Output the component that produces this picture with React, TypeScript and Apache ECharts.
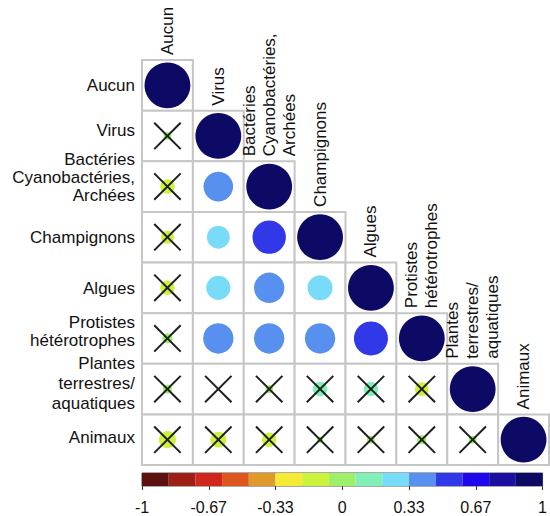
import React, { useEffect, useRef } from "react";
import * as echarts from "echarts";

// Groups compared in the correlation matrix (rows and columns share the order)
const groups = [
  "Aucun",
  "Virus",
  "Bactéries\nCyanobactéries,\nArchées",
  "Champignons",
  "Algues",
  "Protistes\nhétérotrophes",
  "Plantes\nterrestres/\naquatiques",
  "Animaux",
];

// Lower triangle of the correlation matrix, row by row (diagonal included)
const rowAucun = [1];
const rowVirus = [0.03, 1];
const rowBacteries = [-0.1, 0.42, 1];
const rowChampignons = [-0.08, 0.25, 0.53, 1];
const rowAlgues = [-0.1, 0.28, 0.44, 0.3, 1];
const rowProtistes = [0.05, 0.44, 0.44, 0.44, 0.55, 1];
const rowPlantes = [0.04, 0.0, 0.03, 0.1, 0.1, -0.09, 1];
const rowAnimaux = [-0.14, -0.12, -0.1, 0.02, 0.03, 0.04, 0.03, 1];
const corrRows = [rowAucun, rowVirus, rowBacteries, rowChampignons, rowAlgues, rowProtistes, rowPlantes, rowAnimaux];

// Non-significant correlations (crossed out), same layout as above: 1 = crossed
const crossAucun = [0];
const crossVirus = [1, 0];
const crossBacteries = [1, 0, 0];
const crossChampignons = [1, 0, 0, 0];
const crossAlgues = [1, 0, 0, 0, 0];
const crossProtistes = [1, 0, 0, 0, 0, 0];
const crossPlantes = [1, 1, 1, 1, 1, 1, 0];
const crossAnimaux = [1, 1, 1, 1, 1, 1, 1, 0];
const crossRows = [crossAucun, crossVirus, crossBacteries, crossChampignons, crossAlgues, crossProtistes, crossPlantes, crossAnimaux];

// Colour scale from -1 to 1 (15 equal classes)
const palette = [
  "#5c1010", "#9e1f16", "#d0271d", "#dc561e", "#e09a2a",
  "#f5ea34", "#ccf23c", "#9ef06a", "#80f0b8", "#78dcf8",
  "#5890f0", "#3038e8", "#2008ec", "#1c0ea0", "#0c0a64",
];
const scaleMin = -1;
const scaleMax = 1;

const FONT = '"Liberation Sans", Arial, Helvetica, sans-serif';

function colorOf(v: number): string {
  const n = palette.length;
  let k = Math.floor(((v - scaleMin) / (scaleMax - scaleMin)) * n);
  if (k < 0) k = 0;
  if (k > n - 1) k = n - 1;
  return palette[k];
}

// per-row nudges for the multi-line row labels
const rowLabelLift = [0, 5, 9, 0, -1, 7, 6, 2];
const rowLabelLineHeight = [18, 18, 18, 18, 18, 18, 20, 18];

function buildOption() {
  const cells: any[] = [];
  corrRows.forEach((row, i) => {
    row.forEach((v, j) => {
      cells.push([j, i, v, crossRows[i][j]]);
    });
  });
  const diag = groups.map((_, i) => [i, i, i]);
  const rowHeads = groups.map((_, i) => [0, i, i]);

  const bins = palette.map((c, k) => {
    const w = (scaleMax - scaleMin) / palette.length;
    return [scaleMin + k * w, scaleMin + (k + 1) * w, k];
  });

  return {
    animation: false,
    backgroundColor: "#ffffff",
    grid: [
      { left: 142, top: 60, width: 407, height: 405 },
      {
        left: 142, top: 473, width: 407, height: 13,
        show: true, borderColor: "#555", borderWidth: 1, backgroundColor: "transparent",
      },
    ],
    xAxis: [
      {
        gridIndex: 0, type: "category", data: groups,
        axisLine: { show: false }, axisTick: { show: false }, axisLabel: { show: false },
        splitLine: { show: false },
      },
      {
        gridIndex: 1, type: "value", min: scaleMin, max: scaleMax, interval: 1 / 3,
        axisLine: { show: false },
        axisTick: { show: true, length: 4, lineStyle: { color: "#333", width: 1 } },
        splitLine: { show: false },
        axisLabel: {
          show: true, margin: 13, fontSize: 16, fontFamily: FONT, color: "#111",
          showMinLabel: true, showMaxLabel: true,
          formatter: (v: number) => String(Math.round(v * 100) / 100),
        },
      },
    ],
    yAxis: [
      {
        gridIndex: 0, type: "category", data: groups, inverse: true,
        axisLine: { show: false }, axisTick: { show: false }, splitLine: { show: false },
        axisLabel: { show: false },
      },
      { gridIndex: 1, type: "value", min: 0, max: 1, show: false },
    ],
    series: [
      {
        type: "custom",
        xAxisIndex: 0, yAxisIndex: 0,
        data: cells,
        renderItem: (params: any, api: any) => {
          const c = api.coord([api.value(0), api.value(1)]);
          const s = api.size([1, 1]);
          const w = s[0], h = s[1];
          const v = api.value(2);
          const crossed = api.value(3);
          const r = 0.4525 * Math.min(w, h) * Math.sqrt(Math.abs(v));
          const children: any[] = [
            {
              type: "rect",
              shape: { x: c[0] - w / 2, y: c[1] - h / 2, width: w, height: h },
              style: { fill: "#ffffff", stroke: "#c6c6c6", lineWidth: 2 },
            },
          ];
          if (r > 0.3) {
            children.push({
              type: "circle",
              shape: { cx: c[0], cy: c[1], r },
              style: { fill: colorOf(v) },
            });
          }
          if (crossed) {
            const d = 0.26 * w;
            children.push(
              {
                type: "line",
                shape: { x1: c[0] - d, y1: c[1] - d, x2: c[0] + d, y2: c[1] + d },
                style: { stroke: "#1e1e1e", lineWidth: 2 },
              },
              {
                type: "line",
                shape: { x1: c[0] - d, y1: c[1] + d, x2: c[0] + d, y2: c[1] - d },
                style: { stroke: "#1e1e1e", lineWidth: 2 },
              }
            );
          }
          return { type: "group", children };
        },
      },
      {
        // column names written vertically above each diagonal cell
        type: "custom",
        xAxisIndex: 0, yAxisIndex: 0,
        data: diag,
        renderItem: (params: any, api: any) => {
          const c = api.coord([api.value(0), api.value(1)]);
          const h = api.size([1, 1])[1];
          return {
            type: "text",
            x: c[0],
            y: c[1] - h / 2 - 5,
            rotation: Math.PI / 2,
            style: {
              text: groups[api.value(2)],
              fill: "#111",
              fontSize: 17,
              fontFamily: FONT,
              lineHeight: 20,
              align: "left",
              verticalAlign: "middle",
            },
          };
        },
      },
      {
        // row names, right-aligned left of the first column
        type: "custom",
        xAxisIndex: 0, yAxisIndex: 0,
        data: rowHeads,
        renderItem: (params: any, api: any) => {
          const c = api.coord([api.value(0), api.value(1)]);
          const w = api.size([1, 1])[0];
          const i = api.value(2);
          return {
            type: "text",
            x: c[0] - w / 2 - 7,
            y: c[1] - rowLabelLift[i],
            style: {
              text: groups[i],
              fill: "#111",
              fontSize: 17,
              fontFamily: FONT,
              lineHeight: rowLabelLineHeight[i],
              align: "right",
              verticalAlign: "middle",
            },
          };
        },
      },
      {
        // colour bar
        type: "custom",
        xAxisIndex: 1, yAxisIndex: 1,
        data: bins,
        renderItem: (params: any, api: any) => {
          const p0 = api.coord([api.value(0), 1]);
          const p1 = api.coord([api.value(1), 0]);
          return {
            type: "rect",
            shape: { x: p0[0], y: p0[1], width: p1[0] - p0[0], height: p1[1] - p0[1] },
            style: { fill: palette[api.value(2)] },
          };
        },
      },
    ],
  };
}

export default function App() {
  const ref = useRef<HTMLDivElement>(null);
  useEffect(() => {
    if (!ref.current) return;
    const chart = echarts.init(ref.current, null, { renderer: "svg" });
    chart.setOption(buildOption() as any);
    return () => chart.dispose();
  }, []);
  return (
    <div
      ref={ref}
      style={{ position: "absolute", left: 0, top: 0, width: 550, height: 516, background: "#fff" }}
    />
  );
}
